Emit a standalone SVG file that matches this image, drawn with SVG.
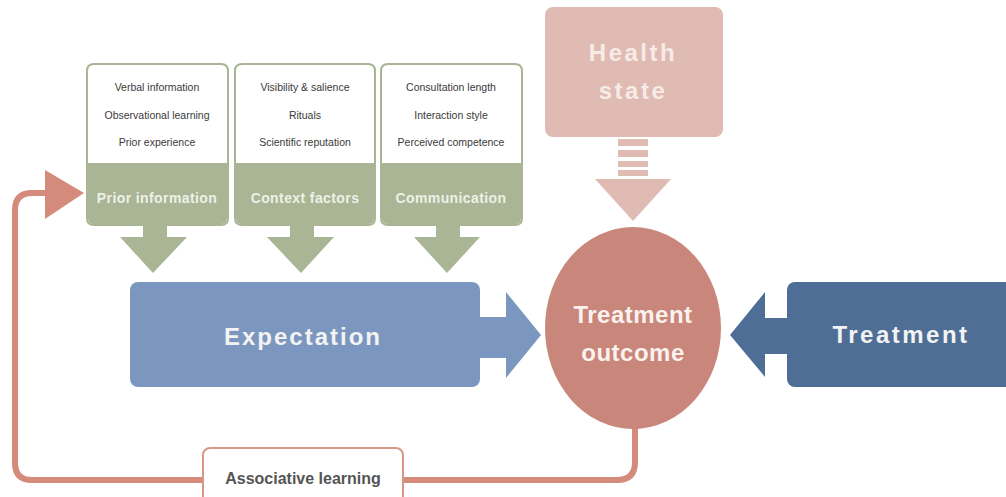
<svg xmlns="http://www.w3.org/2000/svg" width="1006" height="497" viewBox="0 0 1006 497">
<defs>
<style>
.gb{fill:#ffffff;stroke:#a9b595;stroke-width:2}
.gf{fill:#a9b595}
.small{font-family:"Liberation Sans",Arial,sans-serif;font-size:10.5px;fill:#3a3a3a;text-anchor:middle}
.glab{font-family:"Liberation Sans",Arial,sans-serif;font-size:14px;font-weight:bold;fill:#eef0e6;text-anchor:middle;letter-spacing:0.4px}
.big{font-family:"Liberation Sans",Arial,sans-serif;font-size:24px;font-weight:bold;fill:#f3f3f3;text-anchor:middle}
.loop{fill:none;stroke:#d48b7c;stroke-width:6}
</style>
</defs>
<rect width="1006" height="497" fill="#ffffff"/>

<g id="connectors">
<!-- green arrows -->
<path class="gf" d="M143,224 H167 V237 H187 L153,273 L120,237 H143 Z"/>
<path class="gf" d="M290,224 H314 V237 H334 L301,273 L267,237 H290 Z"/>
<path class="gf" d="M436,224 H460 V237 H480 L447,273 L414,237 H436 Z"/>
<!-- health state striped arrow -->
<g fill="#dfbbb3">
<rect x="618" y="139" width="30" height="7"/>
<rect x="618" y="150" width="30" height="7"/>
<rect x="618" y="161" width="30" height="6"/>
<rect x="618" y="170" width="30" height="6"/>
<path d="M595,179 H671 L633,221 Z"/>
</g>
<!-- expectation arrow -->
<path fill="#7b97bf" d="M478,317 H506 V292 L541,335 L506,378 V358 H478 Z"/>
<!-- treatment arrow -->
<path fill="#4f6e96" d="M790,318 H765 V292 L730,335 L765,377 V354 H790 Z"/>
<!-- associative learning loop -->
<path class="loop" d="M635,428 V462 Q635,480 617,480 H32 Q15,480 15,463 V210 Q15,193 32,193 H50"/>
<path fill="#d48b7c" d="M45,170 L84,193 L45,219 Z"/>
</g>

<g id="prior-information">
<path class="gb" d="M94,64 H221 Q228,64 228,71 V218 Q228,225 221,225 H94 Q87,225 87,218 V71 Q87,64 94,64 Z"/>
<path class="gf" d="M88,163 H227 V218 Q227,224 221,224 H94 Q88,224 88,218 Z"/>
<text class="small" x="157" y="91">Verbal information</text>
<text class="small" x="157" y="119">Observational learning</text>
<text class="small" x="157" y="146">Prior experience</text>
<text class="glab" x="157" y="203">Prior information</text>
</g>

<g id="context-factors">
<path class="gb" d="M242,64 H368 Q375,64 375,71 V218 Q375,225 368,225 H242 Q235,225 235,218 V71 Q235,64 242,64 Z"/>
<path class="gf" d="M236,163 H374 V218 Q374,224 368,224 H242 Q236,224 236,218 Z"/>
<text class="small" x="305" y="91">Visibility &amp; salience</text>
<text class="small" x="305" y="119">Rituals</text>
<text class="small" x="305" y="146">Scientific reputation</text>
<text class="glab" x="305" y="203">Context factors</text>
</g>

<g id="communication">
<path class="gb" d="M388,64 H515 Q522,64 522,71 V218 Q522,225 515,225 H388 Q381,225 381,218 V71 Q381,64 388,64 Z"/>
<path class="gf" d="M382,163 H521 V218 Q521,224 515,224 H388 Q382,224 382,218 Z"/>
<text class="small" x="451" y="91">Consultation length</text>
<text class="small" x="451" y="119">Interaction style</text>
<text class="small" x="451" y="146">Perceived competence</text>
<text class="glab" x="451" y="203">Communication</text>
</g>

<g id="health-state">
<rect x="545" y="7" width="178" height="130" rx="8" fill="#dfbbb3"/>
<text class="big" x="633" y="61" style="letter-spacing:2.5px;fill:#f7ebe7">Health</text>
<text class="big" x="633" y="99" style="letter-spacing:2.5px;fill:#f7ebe7">state</text>
</g>

<g id="expectation">
<rect x="130" y="282" width="350" height="105" rx="8" fill="#7b97bf"/>
<text class="big" x="303" y="345" style="letter-spacing:2px">Expectation</text>
</g>

<g id="treatment-outcome">
<ellipse cx="633" cy="328" rx="88" ry="101" fill="#c8877a"/>
<text class="big" x="633" y="323" style="letter-spacing:0.5px;fill:#fbf1ee">Treatment</text>
<text class="big" x="633" y="361" style="letter-spacing:0.5px;fill:#fbf1ee">outcome</text>
</g>

<g id="treatment">
<rect x="787" y="282" width="235" height="105" rx="8" fill="#4f6e96"/>
<text class="big" x="901" y="343" style="letter-spacing:2.5px">Treatment</text>
</g>

<g id="associative-learning">
<rect x="203" y="448" width="200" height="60" rx="7" fill="#ffffff" stroke="#d9978a" stroke-width="2"/>
<text x="303" y="484" style="font-family:'Liberation Sans',Arial,sans-serif;font-size:16px;font-weight:bold;fill:#555555;text-anchor:middle">Associative learning</text>
</g>
</svg>
